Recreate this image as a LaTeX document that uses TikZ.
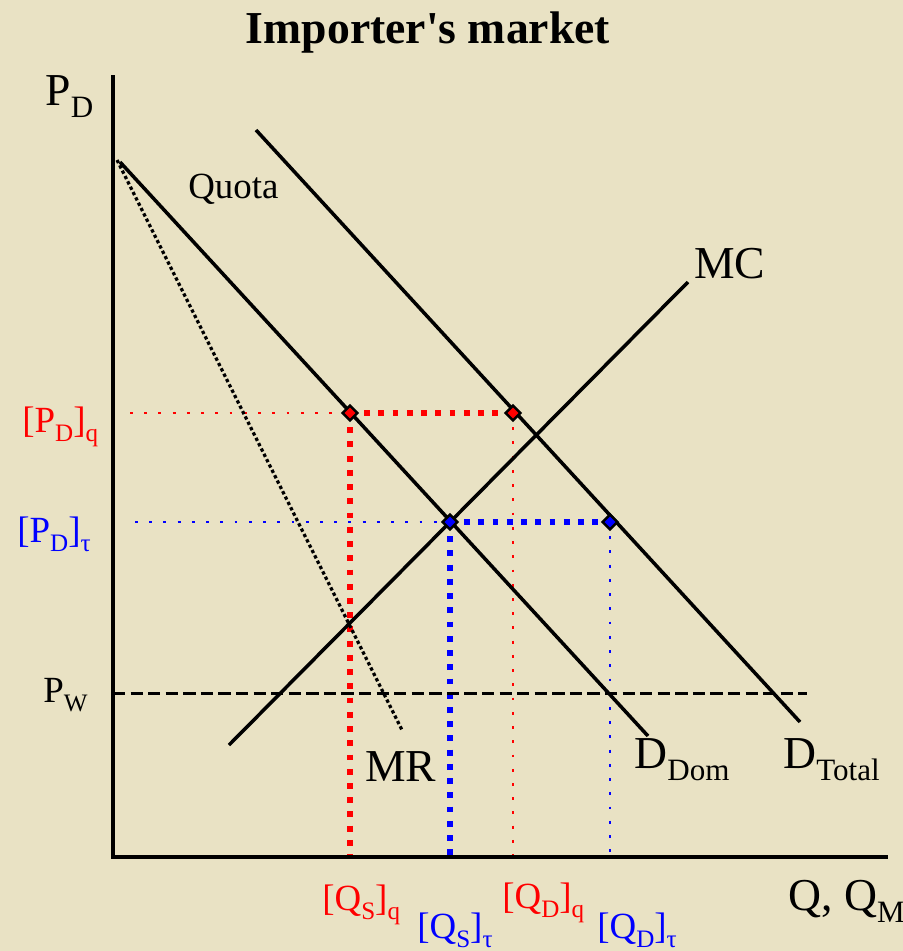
\documentclass[tikz,border=0pt]{standalone}
\usepackage{fontspec}
\setmainfont{Liberation Serif}
\newfontfamily\tieude{Liberation Serif}
\usepackage{xcolor}
\usetikzlibrary{calc, shapes.geometric, positioning}
\definecolor{nen}{RGB}{233,226,196}
\newcommand{\duoi}[1]{\raisebox{-0.27em}{\scalebox{0.68}{#1}}}
\tikzset{
  truc/.style={line width=2.8pt, line join=miter},
  duong/.style={line width=2pt},
  mrline/.style={line width=1.8pt, dash pattern=on 1.9pt off 1.5pt},
  pwline/.style={line width=1.7pt, dash pattern=on 7pt off 3pt},
  dayq/.style={red, line width=3.3pt, dash pattern=on 3.3pt off 4.8pt},
  mongq/.style={red, line width=1.6pt, dash pattern=on 1.6pt off 6.5pt},
  dayt/.style={blue, line width=3.3pt, dash pattern=on 3.3pt off 4.8pt},
  mongt/.style={blue, line width=1.6pt, dash pattern=on 1.6pt off 6.5pt},
  diem/.style={diamond, draw=black, line width=1.4pt, inner sep=0pt, minimum size=9pt},
  nhan/.style={anchor=base west, inner sep=0pt, font=\fontsize{21}{21}\selectfont},
  nhanlon/.style={anchor=base west, inner sep=0pt, font=\fontsize{26}{26}\selectfont},
}

\begin{document}
\begin{tikzpicture}[x=0.02cm, y=-0.02cm]
    % Nền
    \fill[nen] (0,0) rectangle (903,951);
    \useasboundingbox (0,0) rectangle (903,951);
    \node[anchor=base, inner sep=0pt, font=\tieude\bfseries\fontsize{26}{26}\selectfont] (title) at (428,43) {Importer's market};

    % Các điểm
    \coordinate (O) at (113,857);
    \coordinate (Ytop) at (113,75);
    \coordinate (Xend) at (888,857);
    \coordinate (q1) at (350,413);
    \coordinate (q2) at (513,413);
    \coordinate (t1) at (450,522);
    \coordinate (t2) at (610,522);
    \coordinate (qL) at (130,413);
    \coordinate (tL) at (135,522);

    % Đường gióng
    \draw[mongq] (qL) -- (q1);
    \draw[dayq] (q1) -- (q2);
    \draw[dayq] (q1) -- (q1 |- O);
    \draw[mongq] (q2) -- (q2 |- O);
    \draw[mongt] (tL) -- (t1);
    \draw[dayt] (t1) -- (t2);
    \draw[dayt] (t1) -- (t1 |- O);
    \draw[mongt] (t2) -- (t2 |- O);

    % Vẽ hệ trục
    \draw[truc] (Ytop) -- (O) -- (Xend);

    % Các đường cung, cầu
    \coordinate (ddA) at (120,162);
    \coordinate (ddB) at (648,736);
    \coordinate (mrA) at (117,160);
    \coordinate (mrB) at (402,730);
    \coordinate (dtA) at (256,130);
    \coordinate (dtB) at (800,722);
    \coordinate (mcA) at (229,745);
    \coordinate (mcB) at (688,282);
    \coordinate (pwA) at (113,693);
    \coordinate (pwB) at (807,693);
    \draw[duong] (ddA) -- (ddB);
    \draw[mrline] (mrA) -- (mrB);
    \draw[duong] (dtA) -- (dtB);
    \draw[duong] (mcA) -- (mcB);
    \draw[pwline] (pwA) -- (pwB);

    % Giao điểm
    \node[diem, fill=red] (Q1) at (q1) {};
    \node[diem, fill=red] (Q2) at (q2) {};
    \node[diem, fill=blue] (T1) at (t1) {};
    \node[diem, fill=blue] (T2) at (t2) {};

    % Nhãn
    \node[nhanlon] (pd) at (45,105) {P\duoi{D}};
    \node[nhan] (quota) at (188,198) {Quota};
    \node[nhanlon] (mc) at (694,278) {MC};
    \node[nhanlon] (mr) at (365,781) {MR};
    \node[nhanlon] (ddom) at (634,768) {D\duoi{Dom}};
    \node[nhanlon] (dtot) at (783,768) {D\duoi{Total}};
    \node[nhanlon] (qqm) at (788,910) {Q, Q\duoi{M}};
    \node[nhan] (pw) at (43,702) {P\duoi{W}};
    \node[nhan, red] (pdq) at (22,432) {[P\duoi{D}]\duoi{q}};
    \node[nhan, blue] (pdt) at (17,542) {[P\duoi{D}]\duoi{τ}};
    \node[nhan, red] (qsq) at (322,910) {[Q\duoi{S}]\duoi{q}};
    \node[nhan, blue] (qst) at (417,938) {[Q\duoi{S}]\duoi{τ}};
    \node[nhan, red] (qdq) at (502,908) {[Q\duoi{D}]\duoi{q}};
    \node[nhan, blue] (qdt) at (597,938) {[Q\duoi{D}]\duoi{τ}};
\end{tikzpicture}
\end{document}
